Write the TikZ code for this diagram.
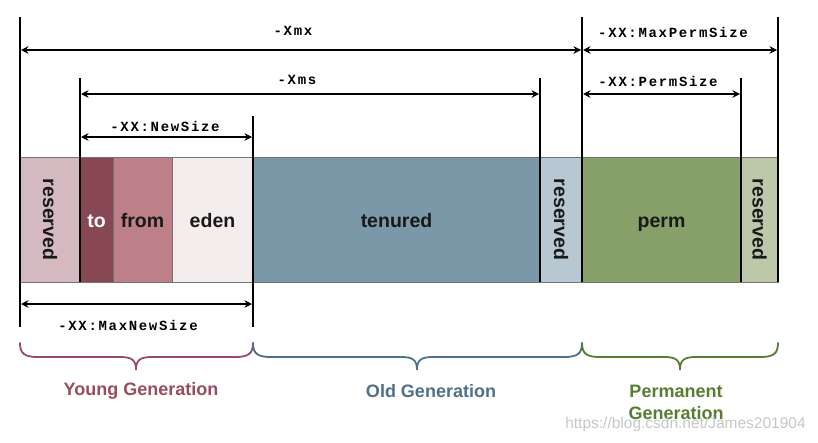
\documentclass[tikz,border=0pt]{standalone}
\usepackage{fontspec}
\setmainfont{Liberation Sans}
\newfontfamily\dimfont[LetterSpace=12]{Liberation Mono}
\usetikzlibrary{arrows.meta}
\definecolor{cResA}{RGB}{212,185,193}
\definecolor{cTo}{RGB}{135,72,84}
\definecolor{cFrom}{RGB}{190,128,136}
\definecolor{cEden}{RGB}{243,238,237}
\definecolor{cTen}{RGB}{122,152,168}
\definecolor{cResB}{RGB}{183,200,211}
\definecolor{cPerm}{RGB}{135,160,106}
\definecolor{cResC}{RGB}{188,200,168}
\definecolor{cYoung}{RGB}{150,78,94}
\definecolor{cOld}{RGB}{78,112,136}
\definecolor{cPermT}{RGB}{88,125,50}
\newcommand\genbrace[4]{%
  \draw[bracestyle, #1] (#2,343) .. controls (#2,354) and ({#2+5},357) .. ({#2+18},357)
    -- ({#4-16},357) .. controls ({#4-4},357) and (#4,360) .. (#4,370)
    .. controls (#4,360) and ({#4+4},357) .. ({#4+16},357)
    -- ({#3-18},357) .. controls ({#3-5},357) and (#3,354) .. (#3,343);}
\begin{document}
\begin{tikzpicture}[x=1pt,y=-1pt,
  cellbase/.style={draw=black!55, line width=0.8pt, inner sep=0pt, outer sep=0pt,
    minimum height=125pt, font=\fontsize{19.5}{20}\selectfont\bfseries, text=black!90},
  cell/.style={cellbase, text height=19pt, text depth=4pt},
  rcell/.style={cellbase},
  vline/.style={line width=2pt, black},
  dimarrow/.style={line width=1.8pt, black,
    {Stealth[length=7.5pt,width=7.5pt,inset=2.5pt]}-{Stealth[length=7.5pt,width=7.5pt,inset=2.5pt]}},
  dimlabel/.style={font=\dimfont\bfseries\fontsize{14}{14}\selectfont, inner sep=0pt},
  genlabel/.style={font=\fontsize{18}{22}\selectfont\bfseries, inner sep=0pt, align=center},
  bracestyle/.style={line width=1.8pt, line cap=round}]
\useasboundingbox[fill=white] (0,0) rectangle (818,442);

% memory cells
\node[rcell, fill=cResA, minimum width=60pt] (resA) at (50,219.5) {\rotatebox{-90}{reserved}};
\node[cell, fill=cTo, minimum width=33pt, text=white] (to) at (96.5,219.5) {to};
\node[cell, fill=cFrom, minimum width=59pt] (from) at (142.5,219.5) {from};
\node[cell, fill=cEden, minimum width=81pt] (eden) at (212.5,219.5) {eden};
\node[cell, fill=cTen, minimum width=287pt] (ten) at (396.5,219.5) {tenured};
\node[rcell, fill=cResB, minimum width=42pt] (resB) at (561,219.5) {\rotatebox{-90}{reserved}};
\node[cell, fill=cPerm, minimum width=159pt] (perm) at (661.5,219.5) {perm};
\node[rcell, fill=cResC, minimum width=37pt] (resC) at (759.5,219.5) {\rotatebox{-90}{reserved}};

% extension lines
\coordinate (aT) at (20,17);  \coordinate (aB) at (20,327);
\coordinate (bT) at (80,78);  \coordinate (bB) at (80,282);
\coordinate (cT) at (253,116); \coordinate (cB) at (253,327);
\coordinate (dT) at (540,78); \coordinate (dB) at (540,282);
\coordinate (eT) at (582,17); \coordinate (eB) at (582,282);
\coordinate (fT) at (741,78); \coordinate (fB) at (741,282);
\coordinate (gT) at (778,17); \coordinate (gB) at (778,282);
\draw[vline] (aT) -- (aB);
\draw[vline] (bT) -- (bB);
\draw[vline] (cT) -- (cB);
\draw[vline] (dT) -- (dB);
\draw[vline] (eT) -- (eB);
\draw[vline] (fT) -- (fB);
\draw[vline] (gT) -- (gB);

% dimension arrows
\coordinate (xmxL) at (21,50);  \coordinate (xmxR) at (581,50);
\coordinate (mpL) at (583,50);  \coordinate (mpR) at (777,50);
\coordinate (xmsL) at (81,94);  \coordinate (xmsR) at (539,94);
\coordinate (psL) at (583,94);  \coordinate (psR) at (740,94);
\coordinate (nsL) at (81,137);  \coordinate (nsR) at (252,137);
\coordinate (mnL) at (21,304);  \coordinate (mnR) at (252,304);
\draw[dimarrow] (xmxL) -- (xmxR);
\draw[dimarrow] (mpL) -- (mpR);
\draw[dimarrow] (xmsL) -- (xmsR);
\draw[dimarrow] (psL) -- (psR);
\draw[dimarrow] (nsL) -- (nsR);
\draw[dimarrow] (mnL) -- (mnR);

\node[dimlabel] (lxmx) at (293,31) {-Xmx};
\node[dimlabel] (lmp) at (673,32) {-XX:MaxPermSize};
\node[dimlabel] (lxms) at (297,80) {-Xms};
\node[dimlabel] (lps) at (658,81) {-XX:PermSize};
\node[dimlabel] (lns) at (165,126) {-XX:NewSize};
\node[dimlabel] (lmn) at (128,325) {-XX:MaxNewSize};

% generation braces
\genbrace{cYoung}{20}{253}{136}
\genbrace{cOld}{253}{582}{417}
\genbrace{cPermT}{582}{778}{680}

\node[genlabel, text=cYoung] (gy) at (141,391) {Young Generation};
\node[genlabel, text=cOld] (go) at (431,391) {Old Generation};
\node[genlabel, text=cPermT] (gp) at (676,402) {Permanent\\Generation};

% watermark
\node[inner sep=0pt, text=black!22, font=\fontsize{15.5}{16}\selectfont] (wm) at (685.5,424) {https://blog.csdn.net/James201904};
\end{tikzpicture}
\end{document}
